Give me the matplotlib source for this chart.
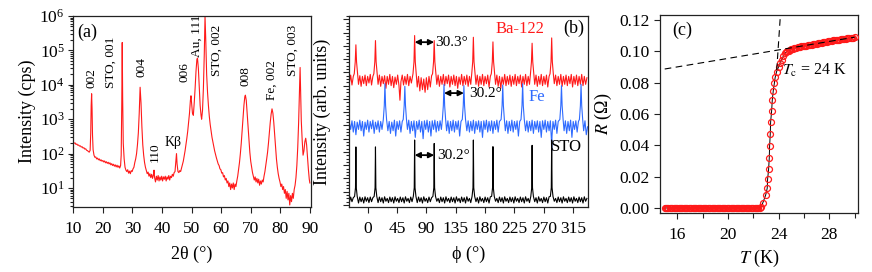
import numpy as np
import matplotlib
matplotlib.use("Agg")
import matplotlib.pyplot as plt
from matplotlib.ticker import (MultipleLocator, FixedLocator, NullFormatter, LogLocator,
                               FormatStrFormatter)

plt.rcParams['font.family'] = ['Liberation Serif', 'DejaVu Serif']
plt.rcParams['mathtext.fontset'] = 'stix'
plt.rcParams['font.size'] = 12

# ---- (a) theta-2theta scan: (2theta, intensity in cps)
xrd_scan = [
    (10.0, 210), (10.3, 200), (10.6, 205), (10.9, 185), (11.2, 190), (11.5, 175), (11.8, 178),
    (12.1, 165), (12.4, 168), (12.7, 155), (13.0, 158), (13.3, 145), (13.6, 148), (13.9, 135),
    (14.2, 138), (14.5, 125), (14.8, 122), (15.1, 115), (15.4, 110), (15.7, 125), (15.9, 400),
    (16.05, 2500), (16.2, 5500), (16.35, 2000), (16.5, 350), (16.7, 130), (17.0, 90), (17.3, 78),
    (17.6, 80), (17.9, 70), (18.2, 74), (18.5, 66), (18.8, 70), (19.1, 62), (19.4, 66), (19.7, 60),
    (20.0, 63), (20.3, 57), (20.6, 61), (20.9, 54), (21.2, 58), (21.5, 52), (21.8, 56), (22.1, 50),
    (22.4, 54), (22.7, 47), (23.0, 51), (23.3, 45), (23.6, 49), (23.9, 43), (24.2, 47), (24.5, 41),
    (24.8, 46), (25.1, 40), (25.4, 44), (25.7, 38), (26.0, 45), (26.2, 90), (26.4, 3000),
    (26.55, 170000), (26.7, 4000), (26.9, 200), (27.2, 70), (27.5, 40), (27.8, 33), (28.1, 30),
    (28.4, 34), (28.7, 27), (29.0, 31), (29.3, 26), (29.6, 32), (29.9, 30), (30.2, 36), (30.5, 40),
    (30.8, 55), (31.1, 70), (31.4, 100), (31.7, 180), (32.0, 400), (32.3, 1500), (32.6, 8500),
    (32.9, 3000), (33.2, 600), (33.5, 180), (33.8, 90), (34.1, 55), (34.4, 40), (34.7, 32),
    (35.0, 26), (35.3, 29), (35.6, 22), (35.9, 26), (36.2, 20), (36.5, 25), (36.8, 19), (37.1, 24),
    (37.3, 33), (37.5, 20), (37.8, 15), (38.1, 22), (38.4, 17), (38.7, 23), (39.0, 16), (39.3, 21),
    (39.6, 17), (39.9, 22), (40.2, 16), (40.5, 21), (40.8, 18), (41.1, 22), (41.4, 16), (41.7, 21),
    (42.0, 18), (42.3, 23), (42.6, 17), (42.9, 22), (43.2, 20), (43.5, 25), (43.8, 22), (44.1, 28),
    (44.4, 30), (44.7, 60), (44.9, 100), (45.1, 50), (45.4, 30), (45.7, 28), (46.0, 32), (46.3, 30),
    (46.6, 38), (46.9, 48), (47.2, 60), (47.5, 85), (47.8, 120), (48.1, 180), (48.4, 280),
    (48.7, 450), (49.0, 800), (49.3, 1500), (49.6, 3500), (49.8, 4800), (50.0, 3000), (50.3, 1500),
    (50.6, 1300), (50.9, 3000), (51.2, 8000), (51.5, 25000), (51.8, 55000), (52.0, 60000),
    (52.3, 30000), (52.6, 8000), (52.9, 2500), (53.2, 1300), (53.4, 1000), (53.7, 1800),
    (54.0, 8000), (54.3, 80000), (54.55, 1000000), (54.8, 200000), (55.1, 20000), (55.4, 6000),
    (55.7, 2500), (56.0, 1200), (56.3, 700), (56.6, 450), (56.9, 300), (57.2, 220), (57.5, 160),
    (57.8, 120), (58.1, 95), (58.4, 75), (58.7, 62), (59.0, 50), (59.3, 45), (59.6, 36), (59.9, 34),
    (60.2, 27), (60.5, 28), (60.8, 21), (61.1, 23), (61.4, 17), (61.7, 19), (62.0, 14), (62.3, 16),
    (62.6, 11), (62.9, 14), (63.2, 9), (63.5, 13), (63.8, 10), (64.1, 14), (64.4, 9), (64.7, 13),
    (65.0, 11), (65.3, 16), (65.6, 22), (65.9, 35), (66.2, 55), (66.5, 100), (66.8, 200),
    (67.1, 450), (67.4, 1000), (67.7, 2500), (68.0, 4500), (68.2, 5000), (68.5, 3500), (68.8, 1500),
    (69.1, 600), (69.4, 250), (69.7, 110), (70.0, 60), (70.3, 40), (70.6, 28), (70.9, 22),
    (71.2, 17), (71.5, 21), (71.8, 15), (72.1, 19), (72.4, 14), (72.7, 18), (73.0, 12), (73.3, 16),
    (73.6, 13), (73.9, 17), (74.2, 15), (74.5, 22), (74.8, 30), (75.1, 45), (75.4, 70), (75.7, 110),
    (76.0, 200), (76.3, 400), (76.6, 800), (76.9, 1400), (77.2, 2000), (77.5, 1500), (77.8, 800),
    (78.1, 350), (78.4, 150), (78.7, 70), (79.0, 40), (79.3, 26), (79.6, 19), (79.9, 15), (80.2, 11),
    (80.5, 13), (80.8, 9), (81.1, 11), (81.4, 7), (81.7, 9), (82.0, 5), (82.3, 8), (82.6, 4.5),
    (82.9, 7), (83.2, 3.2), (83.5, 6), (83.8, 4), (84.1, 7), (84.4, 5), (84.7, 9), (85.0, 12),
    (85.3, 20), (85.6, 45), (85.9, 150), (86.2, 800), (86.45, 5000), (86.7, 32000), (86.9, 6000),
    (87.1, 900), (87.4, 250), (87.7, 90), (88.0, 120), (88.3, 220), (88.6, 280), (88.9, 180),
    (89.2, 80), (89.5, 35), (89.8, 18), (90.0, 14),
]
# peak labels: (text, 2theta, intensity at text foot, rotated)
xrd_labels = [
    ("002", 16.0, 8100, True), ("STO, 001", 22.8, 8100, True), ("004", 32.9, 17000, True),
    ("110", 37.5, 57, True), ("Kβ", 43.7, 205, False), ("006", 47.6, 12000, True),
    ("Au, 111", 51.6, 65000, True), ("STO, 002", 58.4, 18000, True), ("008", 68.3, 9000, True),
    ("Fe, 002", 77.0, 3600, True), ("STO, 003", 84.1, 18000, True),
]

# ---- (b) phi scans (phi in deg, offset intensity)
phi_ba122 = [
    (-28, 9.2), (-26, 9.8), (-24, 9.05), (-22, 9.7), (-20.5, 9.9), (-19, 10.8), (-18, 12.08),
    (-17, 10.8), (-15.5, 9.9), (-14, 9.1), (-12, 9.75), (-10, 8.95), (-8, 9.7), (-6, 9.15),
    (-4, 9.8), (-2, 9.0), (0, 9.7), (2, 9.2), (4, 9.85), (6, 9.05), (8, 9.7), (9.5, 9.9),
    (11, 10.8), (12, 12.4), (13, 10.8), (14.5, 9.9), (16, 9.1), (18, 9.8), (20, 8.95), (22, 9.7),
    (24, 9.15), (26, 9.75), (28, 8.8), (30, 9.7), (32, 9.1), (34, 9.85), (36, 9.0), (38, 9.7),
    (40, 8.85), (42, 9.65), (44, 9.1), (46, 9.8), (48, 9.0), (49.5, 7.9), (51, 9.3), (53, 9.8),
    (55, 9.05), (57, 9.7), (59, 9.1), (61, 9.85), (63, 9.0), (65, 9.7), (67, 9.2), (69.5, 9.9),
    (71, 10.8), (72, 12.78), (73, 10.8), (74.5, 9.9), (76, 8.9), (78, 9.7), (80, 8.6), (82, 9.6),
    (84, 8.7), (86, 9.5), (88, 8.5), (90, 9.6), (92, 8.7), (94, 9.7), (96, 8.9), (98, 9.75),
    (99.5, 9.9), (101, 10.8), (102, 12.4), (103, 10.8), (104.5, 9.9), (106, 9.1), (108, 9.8),
    (110, 8.95), (112, 9.7), (114, 9.1), (116, 9.85), (118, 9.0), (120, 9.7), (122, 9.15),
    (124, 9.8), (126, 8.9), (128, 9.7), (130, 9.1), (132, 9.8), (134, 9.0), (136, 9.7), (138, 8.8),
    (140, 9.65), (142, 9.1), (144, 9.85), (146, 9.0), (148, 9.7), (150, 9.1), (152, 9.8),
    (154, 8.95), (156, 9.7), (158, 9.1), (159.5, 9.9), (161, 10.8), (162, 12.65), (163, 10.8),
    (164.5, 9.9), (166, 9.1), (168, 9.8), (170, 8.95), (172, 9.7), (174, 9.1), (176, 9.85),
    (178, 9.0), (180, 9.7), (182, 9.15), (184, 9.8), (186, 8.9), (188, 9.7), (189.5, 9.9),
    (191, 10.8), (192, 12.3), (193, 10.8), (194.5, 9.9), (196, 9.1), (198, 9.8), (200, 8.95),
    (202, 9.7), (204, 8.8), (206, 9.65), (208, 9.1), (210, 9.85), (212, 9.0), (214, 9.7),
    (216, 9.1), (218, 9.8), (220, 8.95), (222, 9.7), (224, 9.1), (226, 9.85), (228, 9.0),
    (230, 9.7), (232, 9.15), (234, 9.8), (236, 8.9), (238, 9.7), (240, 9.1), (242, 9.85),
    (244, 9.0), (246, 9.7), (248, 9.1), (249.5, 9.9), (251, 10.8), (252, 12.2), (253, 10.8),
    (254.5, 9.9), (256, 9.1), (258, 9.8), (260, 8.95), (262, 9.7), (264, 9.1), (266, 9.85),
    (268, 9.0), (270, 9.7), (272, 9.1), (274, 9.8), (276, 8.9), (278, 9.7), (279.5, 9.9),
    (281, 10.8), (282, 12.6), (283, 10.8), (284.5, 9.9), (286, 9.15), (288, 9.8), (290, 9.0),
    (292, 9.7), (294, 9.1), (296, 9.85), (298, 8.95), (300, 9.7), (302, 9.1), (304, 9.8),
    (306, 9.0), (308, 9.7), (310, 9.15), (312, 9.85), (314, 8.9), (316, 9.7), (318, 9.1),
    (320, 9.8), (322, 9.0), (324, 9.7), (326, 9.1), (328, 9.85), (330, 9.0), (332, 9.7),
    (334, 9.1), (336, 9.6),
]
phi_fe = [
    (-28, 6.2), (-26, 5.7), (-24, 6.35), (-22, 5.5), (-20, 6.3), (-18, 5.3), (-16, 6.25),
    (-14, 5.7), (-12, 6.4), (-10, 5.6), (-8, 6.3), (-6, 5.2), (-4, 6.25), (-2, 5.7), (0, 6.4),
    (2, 5.5), (4, 6.3), (6, 5.75), (8, 6.4), (10, 5.4), (12, 6.25), (14, 5.7), (16, 6.35),
    (18, 5.5), (20, 6.3), (22, 5.7), (24, 6.45), (25.5, 7.5), (26.5, 9.15), (27.5, 7.5),
    (29, 6.45), (31, 5.6), (33, 6.3), (35, 5.4), (37, 6.25), (39, 5.6), (41, 6.4), (43, 5.2),
    (45, 6.3), (47, 5.7), (49, 6.35), (51, 5.5), (53, 6.3), (54.5, 6.45), (56, 7.5), (57, 8.95),
    (58, 7.5), (59.5, 6.45), (61, 5.7), (63, 6.4), (65, 5.4), (67, 6.3), (69, 5.6), (71, 6.35),
    (73, 5.1), (75, 6.3), (77, 5.7), (79, 6.4), (81, 5.5), (83, 6.3), (85, 5.0), (87, 6.35),
    (89, 5.7), (91, 6.4), (93, 5.5), (95, 6.3), (97, 5.2), (99, 6.35), (101, 5.7), (103, 6.4),
    (105, 5.5), (107, 6.3), (109, 5.6), (111, 6.35), (113, 5.7), (114.5, 6.45), (116, 7.5),
    (117, 9.1), (118, 7.5), (119.5, 6.45), (121, 5.6), (123, 6.35), (125, 5.4), (127, 6.3),
    (129, 5.6), (131, 6.4), (133, 5.5), (135, 6.3), (137, 5.7), (139, 6.35), (141, 5.2),
    (143, 6.3), (145, 6.45), (146.5, 7.5), (147.5, 9.0), (148.5, 7.5), (150, 6.45), (152, 5.6),
    (154, 6.35), (156, 5.5), (158, 6.3), (160, 5.6), (162, 6.4), (164, 5.4), (166, 6.3),
    (168, 5.7), (170, 6.35), (172, 5.5), (174, 6.3), (176, 5.1), (178, 6.35), (180, 5.7),
    (182, 6.4), (184, 5.5), (186, 6.3), (188, 5.6), (190, 6.35), (192, 5.4), (194, 6.3),
    (196, 5.7), (198, 6.4), (200, 5.5), (202, 6.3), (204.5, 6.45), (206, 7.5), (207, 9.05),
    (208, 7.5), (209.5, 6.45), (211, 5.6), (213, 6.35), (215, 5.4), (217, 6.3), (219, 5.6),
    (221, 6.4), (223, 5.5), (225, 6.3), (227, 5.7), (229, 6.35), (231, 5.2), (233, 6.3),
    (235, 6.45), (236.5, 7.5), (237.5, 9.15), (238.5, 7.5), (240, 6.45), (242, 5.6), (244, 6.35),
    (246, 5.5), (248, 6.3), (250, 5.6), (252, 6.4), (254, 5.4), (256, 6.3), (258, 5.7),
    (260, 6.35), (262, 5.5), (264, 6.3), (266, 5.1), (268, 6.35), (270, 5.7), (272, 6.4),
    (274, 5.5), (276, 6.3), (278, 5.6), (280, 6.35), (281.5, 5.0), (282, 4.1), (282.5, 5.2),
    (284, 6.3), (286, 5.7), (288, 6.4), (290, 5.4), (292, 6.3), (294.5, 6.45), (296, 7.5),
    (297, 9.0), (298, 7.5), (299.5, 6.45), (301, 5.6), (303, 6.35), (305, 5.4), (307, 6.3),
    (309, 5.6), (311, 6.4), (313, 5.1), (315, 6.3), (317, 5.7), (319, 6.35), (321, 5.5),
    (323, 6.3), (324.5, 6.45), (326, 7.5), (327, 9.1), (328, 7.5), (329.5, 6.45), (331, 5.6),
    (333, 6.35), (335, 5.3), (337, 5.9),
]
phi_sto = [
    (-28, 0.2), (-26, 0.6), (-24, 0.25), (-22, 0.55), (-20, 0.65), (-18.6, 1.3), (-18, 4.38),
    (-17.4, 1.3), (-16, 0.65), (-14, 0.15), (-12, 0.6), (-10, 0.25), (-8, 0.55), (-6, 0.15),
    (-4, 0.62), (-2, 0.28), (0, 0.55), (2, 0.18), (4, 0.6), (6, 0.25), (8, 0.55), (10, 0.65),
    (11.4, 1.3), (12, 4.38), (12.6, 1.3), (14, 0.65), (16, 0.18), (18, 0.6), (20, 0.25),
    (22, 0.55), (24, 0.15), (26, 0.62), (28, 0.28), (30, 0.5), (32, 0.18), (34, 0.6), (36, 0.25),
    (38, 0.55), (40, 0.15), (42, 0.62), (44, 0.28), (46, 0.5), (48, 0.18), (50, 0.6), (52, 0.25),
    (54, 0.55), (56, 0.15), (58, 0.62), (60, 0.28), (62, 0.5), (64, 0.18), (66, 0.6), (68, 0.25),
    (70, 0.65), (71.4, 1.3), (72, 4.9), (72.6, 1.3), (74, 0.65), (76, 0.18), (78, 0.6), (80, 0.25),
    (82, 0.55), (84, 0.15), (86, 0.62), (88, 0.28), (90, 0.5), (92, 0.18), (94, 0.6), (96, 0.25),
    (98, 0.55), (100, 0.65), (101.4, 1.3), (102, 4.64), (102.6, 1.3), (104, 0.65), (106, 0.28),
    (108, 0.5), (110, 0.18), (112, 0.6), (114, 0.25), (116, 0.55), (118, 0.15), (120, 0.62),
    (122, 0.28), (124, 0.5), (126, 0.18), (128, 0.6), (130, 0.25), (132, 0.55), (134, 0.15),
    (136, 0.62), (138, 0.28), (140, 0.5), (142, 0.18), (144, 0.6), (146, 0.25), (148, 0.55),
    (150, 0.15), (152, 0.62), (154, 0.28), (156, 0.5), (158, 0.18), (160, 0.65), (161.4, 1.3),
    (162, 4.9), (162.6, 1.3), (164, 0.65), (166, 0.25), (168, 0.55), (170, 0.15), (172, 0.62),
    (174, 0.28), (176, 0.5), (178, 0.18), (180, 0.6), (182, 0.25), (184, 0.55), (186, 0.15),
    (188, 0.62), (190, 0.65), (191.4, 1.3), (192, 4.4), (192.6, 1.3), (194, 0.65), (196, 0.28),
    (198, 0.5), (200, 0.18), (202, 0.6), (204, 0.25), (206, 0.55), (208, 0.15), (210, 0.62),
    (212, 0.28), (214, 0.5), (216, 0.18), (218, 0.6), (220, 0.25), (222, 0.55), (224, 0.15),
    (226, 0.62), (228, 0.28), (230, 0.5), (232, 0.18), (234, 0.6), (236, 0.25), (238, 0.55),
    (240, 0.15), (242, 0.62), (244, 0.28), (246, 0.5), (248, 0.18), (250, 0.65), (251.4, 1.3),
    (252, 4.5), (252.6, 1.3), (254, 0.65), (256, 0.25), (258, 0.55), (260, 0.15), (262, 0.62),
    (264, 0.28), (266, 0.5), (268, 0.18), (270, 0.6), (272, 0.25), (274, 0.55), (276, 0.15),
    (278, 0.62), (280, 0.65), (281.4, 1.3), (282, 4.9), (282.6, 1.3), (284, 0.65), (286, 0.28),
    (288, 0.5), (290, 0.18), (292, 0.6), (294, 0.25), (296, 0.55), (298, 0.15), (300, 0.62),
    (302, 0.28), (304, 0.5), (306, 0.18), (308, 0.6), (310, 0.25), (312, 0.55), (314, 0.15),
    (316, 0.62), (318, 0.28), (320, 0.5), (322, 0.18), (324, 0.6), (326, 0.25), (328, 0.55),
    (330, 0.15), (332, 0.62), (334, 0.28), (336, 0.5),
]
# peak spacing markers: (phi start, phi end, height, label, label phi)
phi_spacings = [(72, 102, 12.28, "30.3°", 104), (117, 147.5, 8.44, "30.2°", 155),
                (72, 102, 3.76, "30.2°", 106)]
phi_xticks = [0, 45, 90, 135, 180, 225, 270, 315]

# ---- (c) R(T)
rt_T = [
    15.0, 15.1, 15.2, 15.3, 15.4, 15.5, 15.6, 15.7, 15.8, 15.9, 16.0, 16.1, 16.2, 16.3, 16.4, 16.5,
    16.6, 16.7, 16.8, 16.9, 17.0, 17.1, 17.2, 17.3, 17.4, 17.5, 17.6, 17.7, 17.8, 17.9, 18.0, 18.1,
    18.2, 18.3, 18.4, 18.5, 18.6, 18.7, 18.8, 18.9, 19.0, 19.1, 19.2, 19.3, 19.4, 19.5, 19.6, 19.7,
    19.8, 19.9, 20.0, 20.1, 20.2, 20.3, 20.4, 20.5, 20.6, 20.7, 20.8, 20.9, 21.0, 21.1, 21.2, 21.3,
    21.4, 21.5, 21.6, 21.7, 21.8, 21.9, 22.0, 22.1, 22.2, 22.3, 22.4, 22.5, 22.6,
    22.74, 22.98, 23.10, 23.13, 23.21, 23.26, 23.29, 23.34, 23.37, 23.45, 23.50, 23.58, 23.66,
    23.73, 23.84, 24.0, 24.12, 24.24, 24.37,
    24.5, 24.6, 24.7, 24.8, 24.9, 25.0, 25.1, 25.2, 25.3, 25.4, 25.5, 25.6, 25.7, 25.8, 25.9, 26.0,
    26.1, 26.2, 26.3, 26.4, 26.5, 26.6, 26.7, 26.8, 26.9, 27.0, 27.1, 27.2, 27.3, 27.4, 27.5, 27.6,
    27.7, 27.8, 27.9, 28.0, 28.1, 28.2, 28.3, 28.4, 28.5, 28.6, 28.7, 28.8, 28.9, 29.0, 29.1, 29.2,
    29.3, 29.4, 29.5, 29.6, 29.7, 29.8, 29.9, 30.0,
]
rt_R = [
    0.0, 0.0, 0.0, 0.0, 0.0, 0.0, 0.0, 0.0, 0.0, 0.0, 0.0, 0.0, 0.0, 0.0, 0.0, 0.0,
    0.0, 0.0, 0.0, 0.0, 0.0, 0.0, 0.0, 0.0, 0.0, 0.0, 0.0, 0.0, 0.0, 0.0, 0.0, 0.0,
    0.0, 0.0, 0.0, 0.0, 0.0, 0.0, 0.0, 0.0, 0.0, 0.0, 0.0, 0.0, 0.0, 0.0, 0.0, 0.0,
    0.0, 0.0, 0.0, 0.0, 0.0, 0.0, 0.0, 0.0, 0.0, 0.0, 0.0, 0.0, 0.0, 0.0, 0.0, 0.0,
    0.0, 0.0, 0.0, 0.0, 0.0, 0.0, 0.0, 0.0, 0.0, 0.0, 0.0, 0.0002, 0.0006,
    0.003, 0.0083, 0.0126, 0.0183, 0.0247, 0.0317, 0.0396, 0.0472, 0.0549, 0.0621, 0.0689,
    0.0749, 0.0796, 0.0834, 0.087, 0.0902, 0.0925, 0.0945, 0.097,
    0.0987, 0.0995, 0.1000, 0.1005, 0.1009, 0.1013, 0.1016, 0.1019, 0.1022, 0.1024, 0.1026,
    0.1028, 0.1030, 0.1031, 0.1033, 0.1034, 0.1036, 0.1037, 0.1039, 0.1040, 0.1042, 0.1043,
    0.1045, 0.1046, 0.1048, 0.1049, 0.1051, 0.1052, 0.1054, 0.1055, 0.1057, 0.1058, 0.1060,
    0.1061, 0.1063, 0.1064, 0.1066, 0.1067, 0.1069, 0.1070, 0.1071, 0.1072, 0.1074, 0.1075,
    0.1076, 0.1077, 0.1079, 0.1080, 0.1081, 0.1082, 0.1084, 0.1085, 0.1086, 0.1087, 0.1088,
    0.1090,
]
normal_fit_T = [15.0, 30.0]
normal_fit_R = [0.0887, 0.109]
steep_fit_T = [23.85, 24.12]
steep_fit_R = [0.088, 0.1205]

RED = '#ff1a1a'
BLUE = '#2f6bff'

fig = plt.figure(figsize=(8.72, 2.72), dpi=100)
ax_a = fig.add_axes([0.0837, 0.239, 0.273, 0.702])
ax_b = fig.add_axes([0.4002, 0.239, 0.274, 0.702])
ax_c = fig.add_axes([0.7569, 0.217, 0.227, 0.728])

for ax in (ax_a, ax_b, ax_c):
    for s in ax.spines.values():
        s.set_linewidth(0.9)
        s.set_color('#222222')
    ax.tick_params(which='both', direction='out', top=False, right=False, labelsize=12.5,
                   color='#222222', width=0.8)
    ax.tick_params(axis='x', which='both', pad=6)
    ax.tick_params(axis='y', which='both', pad=2.5)
    ax.tick_params(which='major', length=4.3)
    ax.tick_params(which='minor', length=2.2)

# (a)
tt, cps = np.array(xrd_scan).T
ax_a.plot(tt, cps, color=RED, lw=0.8)
ax_a.set_yscale('log')
ax_a.set_xlim(9.9, 90.4)
ax_a.set_ylim(2.8, 1e6)
ax_a.xaxis.set_major_locator(MultipleLocator(10))
ax_a.yaxis.set_major_locator(LogLocator(base=10, numticks=10))
ax_a.yaxis.set_minor_locator(LogLocator(base=10, subs=np.arange(2, 10), numticks=20))
ax_a.yaxis.set_minor_formatter(NullFormatter())
ax_a.tick_params(axis='y', which='major', length=3.5)
ax_a.set_xlabel('2θ (°)', fontsize=13, labelpad=6)
ax_a.set_ylabel('Intensity (cps)', fontsize=13, labelpad=2)
for txt, x, y, rot in xrd_labels:
    if rot:
        ax_a.text(x, y, txt, rotation=90, ha='center', va='bottom', fontsize=9.5)
    else:
        ax_a.text(x, y, txt, ha='center', va='center', fontsize=10)
ax_a.text(0.02, 0.915, '(a)', transform=ax_a.transAxes, ha='left', va='center', fontsize=13)

# (b)
for trace, col in ((phi_ba122, RED), (phi_fe, BLUE), (phi_sto, 'black')):
    ph, inten = np.array(trace).T
    ax_b.plot(ph, inten, color=col, lw=0.8)
ax_b.set_xlim(-28.6, 337.5)
ax_b.set_ylim(-0.15, 14.25)
ax_b.xaxis.set_major_locator(FixedLocator(phi_xticks))
ax_b.yaxis.set_major_locator(MultipleLocator(1))
ax_b.yaxis.set_minor_locator(MultipleLocator(0.25))
ax_b.set_yticklabels([])
ax_b.set_xlabel('ϕ (°)', fontsize=13, labelpad=6)
ax_b.set_ylabel('Intensity (arb. units)', fontsize=13, labelpad=6)
for p0, p1, h, lab, lx in phi_spacings:
    ax_b.annotate('', xy=(p0, h), xytext=(p1, h),
                  arrowprops=dict(arrowstyle='<|-|>', color='black', lw=1.3,
                                  mutation_scale=8, shrinkA=0, shrinkB=0))
    ax_b.text(lx, h, lab, ha='left', va='center', fontsize=11)
ax_b.text(233, 13.3, 'Ba-122', color=RED, ha='center', va='center', fontsize=12)
ax_b.text(259, 8.15, 'Fe', color=BLUE, ha='center', va='center', fontsize=12)
ax_b.text(305, 4.38, 'STO', color='black', ha='center', va='center', fontsize=12)
ax_b.text(0.985, 0.935, '(b)', transform=ax_b.transAxes, ha='right', va='center', fontsize=13)

# (c)
ax_c.plot(rt_T, rt_R, color='black', lw=0.7, zorder=2)
ax_c.plot(rt_T, rt_R, ls='none', marker='o', ms=4.3, mfc='none', mec=RED, mew=0.9, zorder=3)
ax_c.plot(normal_fit_T, normal_fit_R, color='black', lw=0.8, ls=(0, (6, 4)), zorder=4)
ax_c.plot(steep_fit_T, steep_fit_R, color='black', lw=0.8, ls=(0, (6, 4)), zorder=4)
ax_c.set_xlim(14.63, 30.27)
ax_c.set_ylim(-0.0032, 0.1232)
ax_c.xaxis.set_major_locator(MultipleLocator(4))
ax_c.xaxis.set_minor_locator(MultipleLocator(2))
ax_c.yaxis.set_major_locator(MultipleLocator(0.02))
ax_c.yaxis.set_major_formatter(FormatStrFormatter('%.2f'))
ax_c.tick_params(axis='x', which='minor', length=3.5)
ax_c.tick_params(axis='y', pad=3)
ax_c.set_xlabel('$T$ (K)', fontsize=13, labelpad=3)
ax_c.set_ylabel('$R$ (Ω)', fontsize=13, labelpad=4)
ax_c.text(24.3, 0.088, '$T_\\mathrm{c}$ = 24 K', ha='left', va='center', fontsize=11.5)
ax_c.text(0.06, 0.924, '(c)', transform=ax_c.transAxes, ha='left', va='center', fontsize=13)

fig.savefig('out.png', dpi=100)
